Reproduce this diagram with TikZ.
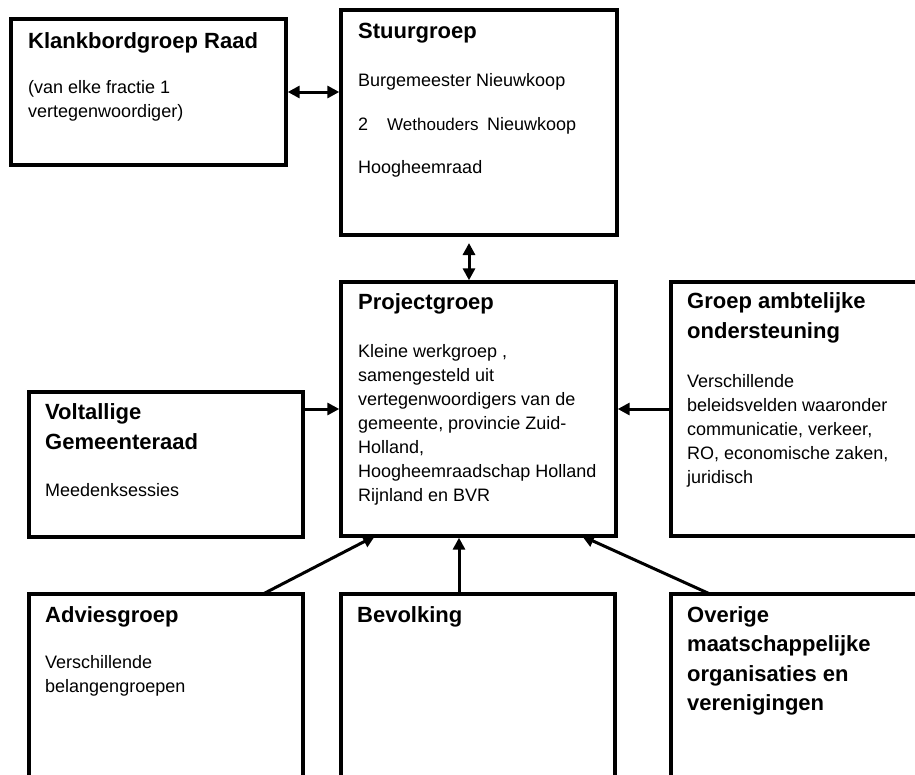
\documentclass[tikz,border=0pt]{standalone}
\usepackage{fontspec}
\setmainfont{Liberation Sans}
\usetikzlibrary{arrows.meta}
\tikzset{
  box/.style={draw=black, line width=3.4pt, rectangle, inner sep=0pt},
  ttl/.style={anchor=base west, inner sep=0pt, align=left, font=\fontsize{22}{29.5}\selectfont\bfseries},
  txt/.style={anchor=base west, inner sep=0pt, align=left, font=\fontsize{18}{24}\selectfont},
  conn/.style={line width=3pt, -{Triangle[length=12pt,width=12pt]}},
  dconn/.style={line width=3pt, {Triangle[length=12pt,width=12pt]}-{Triangle[length=12pt,width=12pt]}}
}
\begin{document}
\begin{tikzpicture}[x=1pt, y=-1pt]
\useasboundingbox (0,0) rectangle (915,774);
\fill[white] (0,0) rectangle (915,774);
\clip (0,0) rectangle (915,774);
% boxes
\node[box, minimum width=275pt, minimum height=146pt] (k) at (148.5,92) {};
\node[box, minimum width=276pt, minimum height=225pt] (s) at (479,122.5) {};
\node[box, minimum width=275pt, minimum height=254pt] (p) at (478.5,409) {};
\node[box, minimum width=274pt, minimum height=145pt] (v) at (166,464.5) {};
\node[box, minimum width=275pt, minimum height=254pt] (g) at (808.5,409) {};
\node[box, minimum width=274pt, minimum height=256pt] (a) at (166,722) {};
\node[box, minimum width=274pt, minimum height=256pt] (b) at (478,722) {};
\node[box, minimum width=275pt, minimum height=256pt] (o) at (808.5,722) {};
% texts (anchor = baseline of the last line)
\node[ttl] (kt) at (28,48) {Klankbordgroep Raad};
\node[txt] (kb) at (28,117.5) {(van elke fractie 1\\vertegenwoordiger)};
\node[ttl] (st) at (358,38) {Stuurgroep};
\node[txt] (sb1) at (358,86) {Burgemeester Nieuwkoop};
\node[txt] (sb2) at (358,130) {2};
\node[txt, font=\fontsize{17}{20}\selectfont] (sb3) at (387,130) {Wethouders};
\node[txt] (sb4) at (487,130) {Nieuwkoop};
\node[txt] (sb5) at (358,173) {Hoogheemraad};
\node[ttl] (pt) at (358,309) {Projectgroep};
\node[txt] (pb) at (358,501) {Kleine werkgroep ,\\samengesteld uit\\vertegenwoordigers van de\\gemeente, provincie Zuid-\\Holland,\\Hoogheemraadschap Holland\\Rijnland en BVR};
\node[ttl] (vt) at (45,449) {Voltallige\\Gemeenteraad};
\node[txt] (vb) at (45,496) {Meedenksessies};
\node[ttl] (gt) at (687,338) {Groep ambtelijke\\ondersteuning};
\node[txt] (gb) at (687,483) {Verschillende\\beleidsvelden waaronder\\communicatie, verkeer,\\RO, economische zaken,\\juridisch};
\node[ttl] (at) at (45,622) {Adviesgroep};
\node[txt] (ab) at (45,692) {Verschillende\\belangengroepen};
\node[ttl] (bt) at (357,622) {Bevolking};
\node[ttl] (ot) at (687,710.5) {Overige\\maatschappelijke\\organisaties en\\verenigingen};
% connectors
\draw[dconn] (k.east) -- (k.east -| s.west);
\coordinate (sp) at (469,243);
\draw[dconn] (sp) -- (sp |- p.north);
\draw[conn] (p.west -| v.east) -- (p.west);
\draw[conn] (g.west) -- (p.east);
\coordinate (a1) at (263,594);
\coordinate (a2) at (375,536);
\draw[conn] (a1) -- (a2);
\coordinate (b1) at (459,594);
\draw[conn] (b1) -- (b1 |- p.south);
\coordinate (o1) at (710,594);
\coordinate (o2) at (582,536);
\draw[conn] (o1) -- (o2);
\end{tikzpicture}
\end{document}
